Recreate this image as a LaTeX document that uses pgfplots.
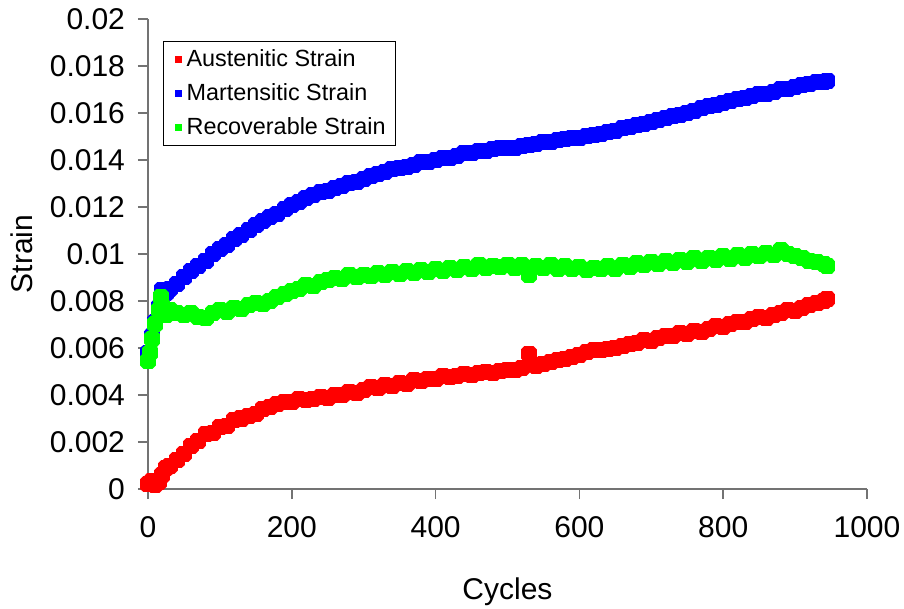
\documentclass[border=0pt]{standalone}
\usepackage{pgfplots}
\pgfplotsset{compat=1.18}
\usepackage{fontspec}
\setmainfont{Liberation Sans}

\definecolor{austred}{RGB}{255,0,0}
\definecolor{martblue}{RGB}{0,0,255}
\definecolor{recgreen}{RGB}{0,255,0}

\begin{document}
\begin{tikzpicture}
\useasboundingbox (-74pt,-60pt) rectangle (378pt,244.5pt);
\begin{axis}[
    at={(0,0)}, anchor=south west,
    scale only axis,
    width=359.5pt, height=235pt,
    xmin=0, xmax=1000, ymin=0, ymax=0.02,
    axis lines=left,
    axis line style={-, draw=black!55, line width=0.8pt},
    tick style={draw=black!55, line width=0.8pt},
    tick align=outside,
    major tick length=5pt,
    xtick={0,200,400,600,800,1000},
    xticklabels={0,200,400,600,800,1000},
    ytick={0,0.002,0.004,0.006,0.008,0.01,0.012,0.014,0.016,0.018,0.02},
    yticklabels={0,0.002,0.004,0.006,0.008,0.01,0.012,0.014,0.016,0.018,0.02},
    scaled y ticks=false,
    /pgf/number format/assume math mode=true,
    ticklabel style={font=\fontsize{15}{18}\selectfont},
    xticklabel style={yshift=-5pt},
    yticklabel style={xshift=-3pt},
    xlabel={Cycles},
    ylabel={Strain},
    every axis x label/.style={at={(axis description cs:0.5,-0.2180)}, anchor=center,
        font=\fontsize{15}{18}\selectfont},
    every axis y label/.style={at={(axis description cs:-0.1760,0.5)}, anchor=center, rotate=90,
        font=\fontsize{15}{18}\selectfont},
    legend cell align=left,
    legend style={at={(axis description cs:0.0209,0.953)}, anchor=north west,
        draw=black, line width=0.6pt, fill=white,
        font=\fontsize{11.7}{14}\selectfont, row sep=3pt},
    legend image code/.code={
        \path[draw=none, fill=none] (0pt,0pt) -- (6.5pt,0pt);
        \fill[#1, draw=none] (2.5pt,-1.75pt) rectangle ++(3.5pt,3.5pt);},
    every axis plot/.append style={line width=3.4pt, line join=bevel,
        mark=square*, mark size=2.3pt, mark options={draw=none}},
]

\addplot[color=austred] coordinates {
(0,0.00020) (5,0.00032) (10,0.00018) (15,0.00030) (20,0.00058) (25,0.00088) (30,0.00100)
(40,0.00122) (50,0.00150) (60,0.00182) (70,0.00205) (80,0.00232) (90,0.00240) (100,0.00262)
(110,0.00270) (120,0.00292) (130,0.00300) (140,0.00312) (150,0.00320) (160,0.00342)
(170,0.00350) (180,0.00362) (190,0.00372) (200,0.00370) (210,0.00382) (220,0.00378)
(230,0.00385) (240,0.00392) (250,0.00388) (260,0.00400) (270,0.00398) (280,0.00412)
(290,0.00408) (300,0.00420) (310,0.00432) (320,0.00428) (330,0.00442) (340,0.00440)
(350,0.00452) (360,0.00448) (370,0.00462) (380,0.00458) (390,0.00470) (400,0.00468)
(410,0.00480) (420,0.00476) (430,0.00482) (440,0.00490) (450,0.00486) (460,0.00494)
(470,0.00498) (480,0.00495) (490,0.00502) (500,0.00508) (510,0.00505) (520,0.00515)
(530,0.00575) (540,0.00525) (550,0.00530) (560,0.00540) (570,0.00548) (580,0.00552)
(590,0.00562) (600,0.00570) (610,0.00582) (620,0.00592) (630,0.00590) (640,0.00596)
(650,0.00602) (660,0.00608) (670,0.00615) (680,0.00622) (690,0.00632) (700,0.00630)
(710,0.00642) (720,0.00650) (730,0.00652) (740,0.00662) (750,0.00660) (760,0.00672)
(770,0.00670) (780,0.00682) (790,0.00692) (800,0.00690) (810,0.00702) (820,0.00712)
(830,0.00710) (840,0.00722) (850,0.00730) (860,0.00728) (870,0.00742) (880,0.00750)
(890,0.00762) (900,0.00758) (910,0.00772) (920,0.00782) (930,0.00790) (940,0.00800)
(945,0.00808)
};
\addlegendentry{Austenitic Strain}

\addplot[color=martblue] coordinates {
(0,0.00580) (5,0.00650) (10,0.00710) (15,0.00775) (20,0.00845) (25,0.00832) (30,0.00850)
(40,0.00872) (50,0.00900) (60,0.00928) (70,0.00950) (80,0.00972) (90,0.01000) (100,0.01022)
(110,0.01040) (120,0.01062) (130,0.01080) (140,0.01100) (150,0.01122) (160,0.01140)
(170,0.01158) (180,0.01172) (190,0.01190) (200,0.01210) (210,0.01222) (220,0.01240)
(230,0.01250) (240,0.01262) (250,0.01270) (260,0.01282) (270,0.01290) (280,0.01302)
(290,0.01308) (300,0.01320) (310,0.01330) (320,0.01342) (330,0.01350) (340,0.01362)
(350,0.01368) (360,0.01372) (370,0.01380) (380,0.01390) (390,0.01392) (400,0.01400)
(410,0.01408) (420,0.01410) (430,0.01418) (440,0.01428) (450,0.01430) (460,0.01440)
(470,0.01438) (480,0.01448) (490,0.01450) (500,0.01452) (510,0.01450) (520,0.01460)
(530,0.01462) (540,0.01468) (550,0.01475) (560,0.01478) (570,0.01485) (580,0.01488)
(590,0.01492) (600,0.01495) (610,0.01502) (620,0.01505) (630,0.01512) (640,0.01518)
(650,0.01525) (660,0.01535) (670,0.01540) (680,0.01548) (690,0.01555) (700,0.01560)
(710,0.01570) (720,0.01578) (730,0.01588) (740,0.01592) (750,0.01602) (760,0.01610)
(770,0.01620) (780,0.01628) (790,0.01632) (800,0.01642) (810,0.01650) (820,0.01660)
(830,0.01662) (840,0.01672) (850,0.01680) (860,0.01682) (870,0.01690) (880,0.01700)
(890,0.01702) (900,0.01710) (910,0.01720) (920,0.01722) (930,0.01730) (940,0.01732)
(945,0.01738)
};
\addlegendentry{Martensitic Strain}

\addplot[color=recgreen] coordinates {
(0,0.00545) (3,0.00580) (6,0.00640) (10,0.00700) (15,0.00760) (18,0.00815) (20,0.00780)
(25,0.00742) (30,0.00760) (40,0.00748) (50,0.00742) (60,0.00750) (70,0.00732) (80,0.00728)
(90,0.00748) (100,0.00760) (110,0.00755) (120,0.00772) (130,0.00768) (140,0.00782)
(150,0.00790) (160,0.00788) (170,0.00802) (180,0.00818) (190,0.00828) (200,0.00842)
(210,0.00850) (220,0.00868) (230,0.00865) (240,0.00880) (250,0.00888) (260,0.00898)
(270,0.00895) (280,0.00910) (290,0.00900) (300,0.00912) (310,0.00905) (320,0.00918)
(330,0.00910) (340,0.00922) (350,0.00915) (360,0.00928) (370,0.00920) (380,0.00932)
(390,0.00925) (400,0.00935) (410,0.00928) (420,0.00940) (430,0.00932) (440,0.00945)
(450,0.00938) (460,0.00955) (470,0.00942) (480,0.00950) (490,0.00945) (500,0.00955)
(510,0.00940) (520,0.00952) (530,0.00912) (540,0.00950) (550,0.00940) (560,0.00952)
(570,0.00938) (580,0.00948) (590,0.00935) (600,0.00945) (610,0.00932) (620,0.00942)
(630,0.00935) (640,0.00948) (650,0.00938) (660,0.00952) (670,0.00945) (680,0.00960)
(690,0.00952) (700,0.00965) (710,0.00958) (720,0.00970) (730,0.00962) (740,0.00975)
(750,0.00968) (760,0.00982) (770,0.00972) (780,0.00985) (790,0.00975) (800,0.00990)
(810,0.00980) (820,0.00995) (830,0.00985) (840,0.01000) (850,0.00990) (860,0.01005)
(870,0.00995) (880,0.01018) (890,0.01000) (900,0.00990) (910,0.00985) (920,0.00972)
(930,0.00965) (940,0.00958) (945,0.00950)
};
\addlegendentry{Recoverable Strain}

\end{axis}
\end{tikzpicture}
\end{document}
